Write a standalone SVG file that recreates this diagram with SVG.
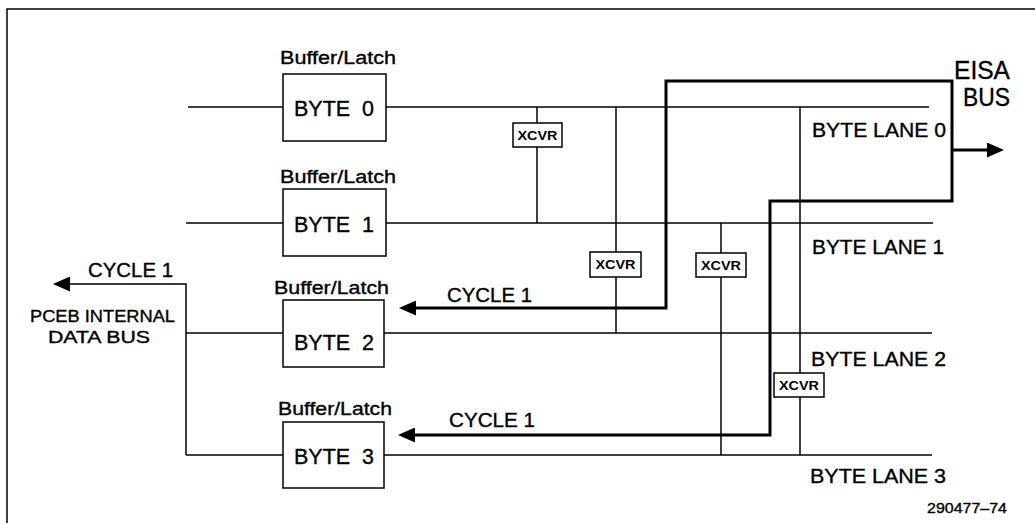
<svg xmlns="http://www.w3.org/2000/svg" width="1035" height="523" viewBox="0 0 1035 523">
<style>
text{font-family:"Liberation Sans",Arial,Helvetica,sans-serif;fill:#000;stroke:#000;stroke-width:0.35}
.thin{stroke:#000;stroke-width:1.5;fill:none}
.thick{stroke:#000;stroke-width:3;fill:none}
.box{stroke:#000;stroke-width:1.5;fill:#fff}
.xbox{stroke:#000;stroke-width:1.5;fill:#fff}
.lbl{font-size:18px}
.byte{font-size:22px}
.lane{font-size:20px}
.cyc{font-size:20px}
.xc{font-size:13px;font-weight:bold;stroke-width:0}
</style>
<defs>
<marker id="ah" markerWidth="18" markerHeight="15" refX="0" refY="7.5" orient="auto" markerUnits="userSpaceOnUse">
<path d="M0,0 L17,7.5 L0,15 Z" fill="#000"/>
</marker>
</defs>
<rect x="0" y="0" width="1035" height="523" fill="#fff"/>
<g id="frame">
<path class="thin" d="M7,523 V9 H1035" stroke-width="2"/>
</g>
<g id="connectors">
<line class="thin" x1="188" y1="107" x2="283" y2="107"/>
<line class="thin" x1="386" y1="107" x2="929" y2="107"/>
<line class="thin" x1="186" y1="223" x2="283" y2="223"/>
<line class="thin" x1="386" y1="223" x2="933" y2="223"/>
<line class="thin" x1="186" y1="333" x2="283" y2="333"/>
<line class="thin" x1="384" y1="333" x2="932" y2="333"/>
<line class="thin" x1="186" y1="455" x2="283" y2="455"/>
<line class="thin" x1="384" y1="455" x2="932" y2="455"/>
<path class="thin" d="M186,455 V284 H70" marker-end="url(#ah)"/>
<line class="thin" x1="537" y1="107" x2="537" y2="223"/>
<line class="thin" x1="616" y1="107" x2="616" y2="333"/>
<line class="thin" x1="721" y1="223" x2="721" y2="455"/>
<line class="thin" x1="800" y1="107" x2="800" y2="455"/>
<path class="thick" d="M952,141 V81 H666 V308 H416" marker-end="url(#ah)"/>
<path class="thick" d="M952,141 V201 H770 V435 H415" marker-end="url(#ah)"/>
<path class="thick" d="M952,150 H987" marker-end="url(#ah)"/>
</g>
<g id="byte0">
<text class="lbl" x="280" y="64" textLength="116" lengthAdjust="spacingAndGlyphs">Buffer/Latch</text>
<rect class="box" x="283" y="74" width="103" height="67"/>
<text class="byte" x="294" y="116" textLength="80" lengthAdjust="spacingAndGlyphs" xml:space="preserve">BYTE  0</text>
</g>
<g id="byte1">
<text class="lbl" x="280" y="183" textLength="116" lengthAdjust="spacingAndGlyphs">Buffer/Latch</text>
<rect class="box" x="283" y="189" width="103" height="67"/>
<text class="byte" x="294" y="232" textLength="80" lengthAdjust="spacingAndGlyphs" xml:space="preserve">BYTE  1</text>
</g>
<g id="byte2">
<text class="lbl" x="274" y="294" textLength="115" lengthAdjust="spacingAndGlyphs">Buffer/Latch</text>
<rect class="box" x="283" y="300" width="101" height="67"/>
<text class="byte" x="294" y="350" textLength="80" lengthAdjust="spacingAndGlyphs" xml:space="preserve">BYTE  2</text>
</g>
<g id="byte3">
<text class="lbl" x="278" y="415" textLength="114" lengthAdjust="spacingAndGlyphs">Buffer/Latch</text>
<rect class="box" x="283" y="422" width="101" height="66"/>
<text class="byte" x="294" y="464" textLength="80" lengthAdjust="spacingAndGlyphs" xml:space="preserve">BYTE  3</text>
</g>
<g id="xcvr1">
<rect class="xbox" x="513" y="123" width="49" height="24"/>
<text class="xc" x="517.5" y="140" textLength="40" lengthAdjust="spacingAndGlyphs">XCVR</text>
</g>
<g id="xcvr2">
<rect class="xbox" x="590" y="252" width="51" height="25"/>
<text class="xc" x="595.5" y="269" textLength="40" lengthAdjust="spacingAndGlyphs">XCVR</text>
</g>
<g id="xcvr3">
<rect class="xbox" x="696" y="253" width="50" height="24"/>
<text class="xc" x="701" y="270" textLength="40" lengthAdjust="spacingAndGlyphs">XCVR</text>
</g>
<g id="xcvr4">
<rect class="xbox" x="774" y="373" width="50" height="24"/>
<text class="xc" x="779" y="390" textLength="40" lengthAdjust="spacingAndGlyphs">XCVR</text>
</g>
<g id="labels">
<text class="cyc" x="88" y="277" textLength="85" lengthAdjust="spacingAndGlyphs">CYCLE 1</text>
<text class="cyc" x="447" y="302" textLength="85" lengthAdjust="spacingAndGlyphs">CYCLE 1</text>
<text class="cyc" x="449" y="427" textLength="86" lengthAdjust="spacingAndGlyphs">CYCLE 1</text>
<text x="30" y="322" font-size="17" textLength="145" lengthAdjust="spacingAndGlyphs">PCEB INTERNAL</text>
<text x="48" y="343" font-size="17" textLength="102" lengthAdjust="spacingAndGlyphs">DATA BUS</text>
<text x="954" y="79" font-size="25" textLength="56" lengthAdjust="spacingAndGlyphs">EISA</text>
<text x="963" y="106" font-size="25" textLength="47" lengthAdjust="spacingAndGlyphs">BUS</text>
<text class="lane" x="812" y="137" textLength="134" lengthAdjust="spacingAndGlyphs">BYTE LANE 0</text>
<text class="lane" x="812" y="254" textLength="132" lengthAdjust="spacingAndGlyphs">BYTE LANE 1</text>
<text class="lane" x="811" y="366" textLength="135" lengthAdjust="spacingAndGlyphs">BYTE LANE 2</text>
<text class="lane" x="810" y="483" textLength="136" lengthAdjust="spacingAndGlyphs">BYTE LANE 3</text>
<text x="927" y="513" font-size="15" textLength="80" lengthAdjust="spacingAndGlyphs">290477–74</text>
</g>
</svg>
